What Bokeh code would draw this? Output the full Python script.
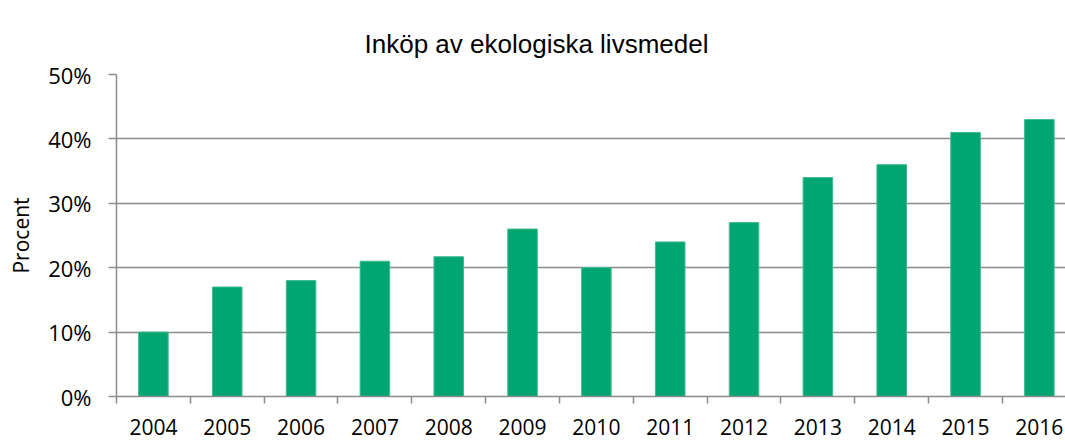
from bokeh.plotting import figure
from bokeh.models import Range1d, FixedTicker, ColumnDataSource
from bokeh.embed import file_html
from bokeh.resources import INLINE

years = ["2004", "2005", "2006", "2007", "2008", "2009", "2010",
         "2011", "2012", "2013", "2014", "2015", "2016"]
values = [10, 17, 18, 21, 21.7, 26, 20, 24, 27, 34, 36, 41, 43]
y_ticks = [0, 10, 20, 30, 40, 50]
y_labels = ["0%", "10%", "20%", "30%", "40%", "50%"]

GREEN = "#00A572"
GRID = "#8c8c8c"
TICK_FONT = "Open Sans"

n = len(years)
centers = [i + 0.5 for i in range(n)]
src = ColumnDataSource(dict(x=centers, top=values))

p = figure(width=1065, height=440, output_backend="svg", toolbar_location=None,
           x_range=Range1d(0, 12.854), y_range=Range1d(0, 50),
           min_border_left=116, min_border_right=0, min_border_top=74,
           min_border_bottom=44)
p.outline_line_color = None
p.background_fill_color = "white"

p.title.text = "Inköp av ekologiska livsmedel"
p.title.align = "left"
p.title.offset = 248
p.title.vertical_align = "top"
p.title.text_font = "Liberation Sans"
p.title.text_font_size = "26px"
p.title.text_font_style = "normal"
p.title.text_color = "#000000"
p.title.standoff = 28

p.vbar(x="x", top="top", width=0.4, bottom=0, source=src,
       fill_color=GREEN, line_color="#3dbb8f", line_width=1)

# x axis
xa = p.xaxis[0]
xa.ticker = FixedTicker(ticks=centers, minor_ticks=[i for i in range(n + 1)])
xa.major_label_overrides = {c: y for c, y in zip(centers, years)}
xa.major_tick_line_color = None
xa.major_tick_out = 0
xa.major_tick_in = 0
xa.minor_tick_line_color = GRID
xa.minor_tick_line_width = 1.5
xa.minor_tick_out = 7
xa.minor_tick_in = 0
xa.axis_line_color = GRID
xa.axis_line_width = 1.5
xa.major_label_text_font = TICK_FONT
xa.major_label_text_font_size = "21px"
xa.major_label_text_color = "#000000"
xa.major_label_standoff = 15

# y axis
ya = p.yaxis[0]
ya.ticker = FixedTicker(ticks=y_ticks, minor_ticks=[])
ya.major_label_overrides = {t: l for t, l in zip(y_ticks, y_labels)}
ya.major_tick_line_color = GRID
ya.major_tick_line_width = 1.5
ya.major_tick_out = 8
ya.major_tick_in = 0
ya.minor_tick_line_color = None
ya.axis_line_color = GRID
ya.axis_line_width = 1.5
ya.major_label_text_font = TICK_FONT
ya.major_label_text_font_size = "22px"
ya.major_label_text_color = "#000000"
ya.major_label_standoff = 17
ya.axis_label = "Procent"
ya.axis_label_text_font = TICK_FONT
ya.axis_label_text_font_size = "21px"
ya.axis_label_text_font_style = "normal"
ya.axis_label_text_color = "#000000"
ya.axis_label_standoff = 10

p.xgrid.grid_line_color = None
p.ygrid.ticker = FixedTicker(ticks=y_ticks)
p.ygrid.grid_line_color = GRID
p.ygrid.grid_line_width = 1.5

open("out.html", "w").write(file_html(p, INLINE))
